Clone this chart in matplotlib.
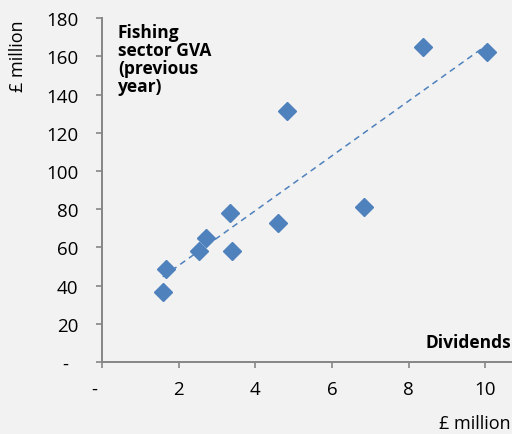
import matplotlib
matplotlib.use("Agg")
import matplotlib.pyplot as plt
import numpy as np

# Data
dividends = [1.59, 1.67, 2.53, 2.72, 3.34, 3.39, 4.60, 4.83, 6.84, 8.38, 10.05]
gva_prev = [36.6, 48.7, 58.0, 64.9, 78.0, 58.0, 72.7, 131.3, 81.1, 164.8, 162.2]
x_ticks = [0, 2, 4, 6, 8, 10]
x_tick_labels = ["-   ", "2", "4", "6", "8", "10"]
y_ticks = [0, 20, 40, 60, 80, 100, 120, 140, 160, 180]
y_tick_labels = ["-  ", "20", "40", "60", "80", "100", "120", "140", "160", "180"]

plt.rcParams['font.family'] = ['Open Sans', 'DejaVu Sans']

bg = "#f2f2f2"
blue = "#4f81bd"
grey = "#868686"

fig = plt.figure(figsize=(5.12, 4.35), dpi=100, facecolor=bg)
ax = fig.add_axes([0.199, 0.1655, 0.801, 0.7905], facecolor=bg)

ax.plot(dividends, gva_prev, linestyle="none", marker="D", markersize=9,
        color=blue, markeredgecolor=blue, zorder=3)

# linear trendline
coef = np.polyfit(dividends, gva_prev, 1)
xs = np.array([min(dividends), max(dividends)])
ax.plot(xs, np.polyval(coef, xs), linestyle=(0, (4, 3)), color=blue, linewidth=1.1, zorder=2)

ax.set_xlim(0, 10.7)
ax.set_ylim(0, 180)
ax.set_xticks(x_ticks)
ax.set_xticklabels(x_tick_labels)
ax.set_yticks(y_ticks)
ax.set_yticklabels(y_tick_labels)

for s in ["top", "right"]:
    ax.spines[s].set_visible(False)
for s in ["left", "bottom"]:
    ax.spines[s].set_color(grey)
    ax.spines[s].set_linewidth(1.4)

ax.tick_params(axis="both", direction="out", length=4, width=1.2, color=grey,
               labelsize=13.5, labelcolor="black")
ax.tick_params(axis="x", pad=9)
ax.tick_params(axis="y", pad=13)

ax.text(0.039, 0.985, "Fishing\nsector GVA\n(previous\nyear)", transform=ax.transAxes,
        ha="left", va="top", fontsize=12.5, fontweight="bold", linespacing=1.0)
ax.text(0.998, 0.057, "Dividends", transform=ax.transAxes, ha="right", va="center",
        fontsize=12.5, fontweight="bold", clip_on=False)

fig.text(0.036, 0.87, "£ million", rotation=90, ha="center", va="center", fontsize=13)
fig.text(0.998, 0.025, "£ million", ha="right", va="center", fontsize=13)

fig.savefig("out.png", dpi=100, facecolor=bg)
